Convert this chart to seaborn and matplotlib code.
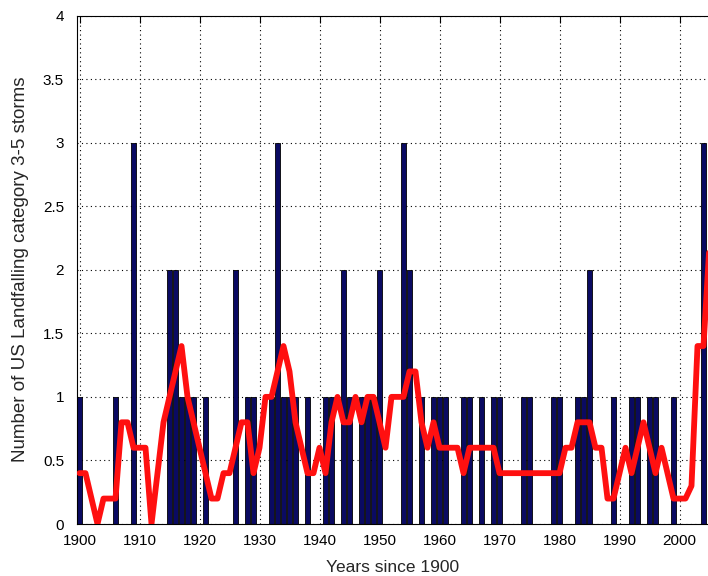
import matplotlib
matplotlib.use("Agg")
import matplotlib.pyplot as plt
import seaborn as sns
import numpy as np
import pandas as pd

# ---- data ----
years = list(range(1900, 2005))
counts = [1, 0, 0, 0, 0, 0, 1, 0, 0, 3,
          0, 0, 0, 0, 0, 2, 2, 1, 1, 1,
          0, 1, 0, 0, 0, 0, 2, 0, 1, 1,
          0, 0, 1, 3, 1, 1, 1, 0, 1, 0,
          0, 1, 1, 0, 2, 1, 0, 1, 1, 1,
          2, 0, 0, 0, 3, 2, 0, 1, 0, 1,
          1, 1, 0, 0, 1, 1, 0, 1, 0, 1,
          1, 0, 0, 0, 1, 1, 0, 0, 0, 1,
          1, 0, 0, 1, 1, 2, 0, 0, 0, 1,
          0, 0, 1, 1, 0, 1, 1, 0, 0, 1,
          0, 0, 0, 0, 3]

line_years = list(range(1900, 2006))
running_mean = [0.4, 0.4, 0.2, 0.0, 0.2, 0.2, 0.2, 0.8, 0.8, 0.6,
                0.6, 0.6, 0.0, 0.4, 0.8, 1.0, 1.2, 1.4, 1.0, 0.8,
                0.6, 0.4, 0.2, 0.2, 0.4, 0.4, 0.6, 0.8, 0.8, 0.4,
                0.6, 1.0, 1.0, 1.2, 1.4, 1.2, 0.8, 0.6, 0.4, 0.4,
                0.6, 0.4, 0.8, 1.0, 0.8, 0.8, 1.0, 0.8, 1.0, 1.0,
                0.8, 0.6, 1.0, 1.0, 1.0, 1.2, 1.2, 0.8, 0.6, 0.8,
                0.6, 0.6, 0.6, 0.6, 0.4, 0.6, 0.6, 0.6, 0.6, 0.6,
                0.4, 0.4, 0.4, 0.4, 0.4, 0.4, 0.4, 0.4, 0.4, 0.4,
                0.4, 0.6, 0.6, 0.8, 0.8, 0.8, 0.6, 0.6, 0.2, 0.2,
                0.4, 0.6, 0.4, 0.6, 0.8, 0.6, 0.4, 0.6, 0.4, 0.2,
                0.2, 0.2, 0.3, 1.4, 1.4, 2.2]

xtick_vals = list(range(1900, 2001, 10))
ytick_vals = [0, 0.5, 1, 1.5, 2, 2.5, 3, 3.5, 4]
ytick_labels = ["0", "0.5", "1", "1.5", "2", "2.5", "3", "3.5", "4"]

x_label = "Years since 1900"
y_label = "Number of US Landfalling category 3-5 storms"

# ---- plotting ----
sns.set_style("white")
plt.rcParams["font.family"] = ["Liberation Sans", "DejaVu Sans"]

fig = plt.figure(figsize=(7.08, 5.76), dpi=100)
ax = fig.add_axes([76.5 / 708, 52 / 576, (708 - 76.5) / 708, (524 - 15.5) / 576])

bars_df = pd.DataFrame({"year": years, "count": counts})
line_df = pd.DataFrame({"year": line_years, "mean": running_mean})

sns.barplot(data=bars_df, x="year", y="count", native_scale=True, width=0.95,
            color="#0a0a62", saturation=1, edgecolor="black", linewidth=0.6,
            errorbar=None, ax=ax, zorder=2)
sns.lineplot(data=line_df, x="year", y="mean", color="#ff1010", linewidth=4.2,
             ax=ax, zorder=3)

ax.set_xlim(1899.5, 1899.5 + (708 - 76.5) / 6.0)
ax.set_ylim(0, 4)
ax.set_xticks(xtick_vals)
ax.set_xticklabels([str(v) for v in xtick_vals])
ax.set_yticks(ytick_vals)
ax.set_yticklabels(ytick_labels)

ax.set_axisbelow(True)
ax.grid(True, linestyle=(0, (1, 3)), color="black", linewidth=0.8)

ax.tick_params(direction="in", top=True, right=False, length=5, width=0.8,
               labelsize=11, colors="black")
ax.tick_params(axis="x", pad=7)
ax.tick_params(axis="y", pad=9)
for s in ["left", "bottom", "top"]:
    ax.spines[s].set_color("black")
    ax.spines[s].set_linewidth(0.8)
ax.spines["right"].set_visible(False)

ax.set_xlabel(x_label, fontsize=12.5, labelpad=9)
ax.set_ylabel(y_label, fontsize=13.5, labelpad=10)

fig.savefig("out.png", dpi=100, facecolor="white")
